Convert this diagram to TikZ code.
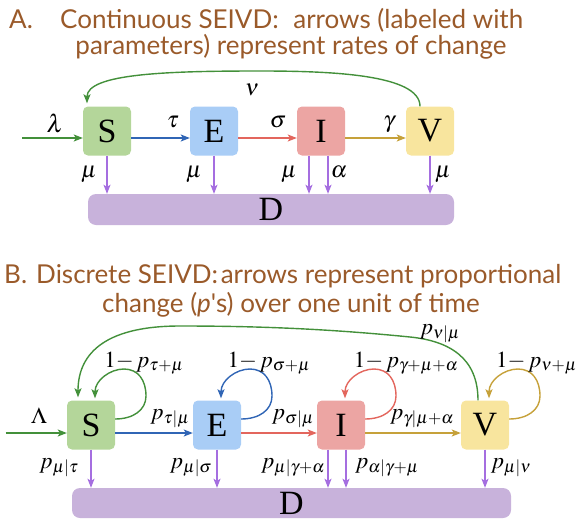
\documentclass[tikz,border=0pt]{standalone}
\usepackage{mathptmx}
\usepackage{fontspec}
\setmainfont{Liberation Serif}
\newfontfamily\titlefont{Lato}
\usetikzlibrary{arrows.meta,calc}
\definecolor{sfill}{HTML}{B4D69A}
\definecolor{efill}{HTML}{A9CDF6}
\definecolor{ifill}{HTML}{ECA5A3}
\definecolor{vfill}{HTML}{F8E59E}
\definecolor{dfill}{HTML}{C8B2DB}
\definecolor{cgreen}{HTML}{43903A}
\definecolor{cblue}{HTML}{3065B5}
\definecolor{cred}{HTML}{E3665D}
\definecolor{cgold}{HTML}{C6A13A}
\definecolor{cpurple}{HTML}{A56EE0}
\definecolor{tbrown}{HTML}{9A5A2A}
\tikzset{
  box/.style={rounded corners=5pt, minimum width=48pt, minimum height=49pt, inner sep=0pt, font=\fontsize{34}{34}\selectfont},
  dbox/.style={rounded corners=8pt, fill=dfill, inner sep=0pt, font=\fontsize{34}{34}\selectfont},
  arr/.style={-{Stealth[length=9pt,width=7pt,inset=2pt]}, line width=1.4pt},
  lbl/.style={anchor=base, inner sep=0pt, font=\fontsize{23}{25}\selectfont},
  ttl/.style={anchor=base, inner sep=0pt, text=tbrown, font=\titlefont\fontsize{26}{28}\selectfont},
}
\newcommand\selfloop[2]{\draw[arr,#2] ([yshift=6pt]#1.east) .. controls +(18pt,0pt) and +(0pt,-14pt) .. ($(#1.center)+(55pt,29pt)$) .. controls +(0pt,16pt) and +(14pt,0pt) .. ($(#1.center)+(33pt,56pt)$) .. controls +(-14pt,0pt) and +(0pt,18pt) .. ([xshift=4pt,yshift=2pt]#1.north);}
\begin{document}
\begin{tikzpicture}[x=1pt,y=-1pt]
\useasboundingbox (0,0) rectangle (581,522);
% ---------- Part A ----------
\node[ttl,anchor=base west] (tA0) at (9,28) {A.};
\node[ttl,anchor=base west] (tA1) at (60,28) {Continuous SEIVD:\hspace{0.3em} arrows (labeled with};
\node[ttl] (tA2) at (291,54) {parameters) represent rates of change};
\node[box,fill=sfill] (SA) at (107,131) {S};
\node[box,fill=efill] (EA) at (214,131) {E};
\node[box,fill=ifill] (IA) at (321,131) {I};
\node[box,fill=vfill] (VA) at (430,131) {V};
\node[dbox,minimum width=366pt,minimum height=31pt] (DA) at (271,209.5) {D};
\coordinate (inA) at (22,138);
\draw[arr,cgreen] (inA) -- ([yshift=-7pt]SA.west);
\draw[arr,cblue] ([yshift=-7pt]SA.east) -- ([yshift=-7pt]EA.west);
\draw[arr,cred] ([yshift=-7pt]EA.east) -- ([yshift=-7pt]IA.west);
\draw[arr,cgold] ([yshift=-7pt]IA.east) -- ([yshift=-7pt]VA.west);
\draw[arr,cgreen] ([xshift=-10pt]VA.north) .. controls +(0pt,32pt) and +(70pt,0pt) .. (260,71) .. controls +(-90pt,0pt) and +(0pt,30pt) .. ([xshift=-20pt,yshift=3pt]SA.north);
\coordinate (IAa) at ([xshift=-12pt]IA.south);
\coordinate (IAb) at ([xshift=7pt]IA.south);
\draw[arr,cpurple] (SA.south) -- (SA.south |- DA.north);
\draw[arr,cpurple] (EA.south) -- (EA.south |- DA.north);
\draw[arr,cpurple] (IAa) -- (IAa |- DA.north);
\draw[arr,cpurple] (IAb) -- (IAb |- DA.north);
\draw[arr,cpurple] (VA.south) -- (VA.south |- DA.north);
\node[lbl,font=\fontsize{25}{27}\selectfont] (lamA) at (55,132) {$\lambda$};
\node[lbl] (tauA) at (173,127) {$\tau$};
\node[lbl] (sigA) at (278,127) {$\sigma$};
\node[lbl] (gamA) at (389,127) {$\gamma$};
\node[lbl] (nuA) at (252,95) {$\nu$};
\node[lbl] (muA1) at (89,177) {$\mu$};
\node[lbl] (muA2) at (194,177) {$\mu$};
\node[lbl] (muA3) at (289,177) {$\mu$};
\node[lbl] (alA) at (339,177) {$\alpha$};
\node[lbl] (muA4) at (443,177) {$\mu$};
% ---------- Part B ----------
\node[ttl,anchor=base west] (tB0) at (4,283) {B.};
\node[ttl,anchor=base west] (tB1) at (36,283) {Discrete SEIVD:\hspace{0.1em}arrows represent proportional};
\node[ttl] (tB2) at (291,312) {change (\textit{p}'s) over one unit of time};
\node[box,fill=sfill] (SB) at (91,425) {S};
\node[box,fill=efill] (EB) at (217,425) {E};
\node[box,fill=ifill] (IB) at (341,425) {I};
\node[box,fill=vfill] (VB) at (485,425) {V};
\node[dbox,minimum width=439pt,minimum height=30pt] (DB) at (291.5,503) {D};
\coordinate (inB) at (5.5,433);
\draw[arr,cgreen] (inB) -- ([yshift=-8pt]SB.west);
\draw[arr,cblue] ([yshift=-8pt]SB.east) -- ([yshift=-8pt]EB.west);
\draw[arr,cred] ([yshift=-8pt]EB.east) -- ([yshift=-8pt]IB.west);
\draw[arr,cgold] ([yshift=-8pt]IB.east) -- ([yshift=-8pt]VB.west);
\selfloop{SB}{cgreen}
\selfloop{EB}{cblue}
\selfloop{IB}{cred}
\selfloop{VB}{cgold}
\draw[arr,cgreen] ([xshift=-7pt]VB.north) .. controls +(0pt,42pt) and +(40pt,-4pt) .. (410,337) .. controls +(-80pt,8pt) and +(80pt,0pt) .. (180,326) .. controls +(-80pt,0pt) and +(0pt,40pt) .. ([xshift=-13pt,yshift=3pt]SB.north);
\coordinate (IBa) at ([xshift=-13pt]IB.south);
\coordinate (IBb) at ([xshift=5pt]IB.south);
\draw[arr,cpurple] (SB.south) -- (SB.south |- DB.north);
\draw[arr,cpurple] (EB.south) -- (EB.south |- DB.north);
\draw[arr,cpurple] (IBa) -- (IBa |- DB.north);
\draw[arr,cpurple] (IBb) -- (IBb |- DB.north);
\draw[arr,cpurple] (VB.south) -- (VB.south |- DB.north);
\node[lbl] (LamB) at (39,423) {$\Lambda$};
\node[lbl] (pSE) at (170,419) {$p_{\tau|\mu}$};
\node[lbl] (pEI) at (293,419) {$p_{\sigma|\mu}$};
\node[lbl] (pIV) at (422,419) {$p_{\gamma|\mu+\alpha}$};
\node[lbl] (lS) at (144,367) {$1{-}\,p_{\tau+\mu}$};
\node[lbl] (lE) at (269,367) {$1{-}\,p_{\sigma+\mu}$};
\node[lbl] (lI) at (406,367) {$1{-}\,p_{\gamma+\mu+\alpha}$};
\node[lbl,anchor=base west] (lV) at (496,367) {$1{-}\,p_{\nu+\mu}$};
\node[lbl] (pVS) at (440,334) {$p_{\nu|\mu}$};
\node[lbl] (pSD) at (59,468) {$p_{\mu|\tau}$};
\node[lbl] (pED) at (191,468) {$p_{\mu|\sigma}$};
\node[lbl] (pID1) at (293,468) {$p_{\mu|\gamma+\alpha}$};
\node[lbl] (pID2) at (387,468) {$p_{\alpha|\gamma+\mu}$};
\node[lbl] (pVD) at (511,468) {$p_{\mu|\nu}$};
\end{tikzpicture}
\end{document}
